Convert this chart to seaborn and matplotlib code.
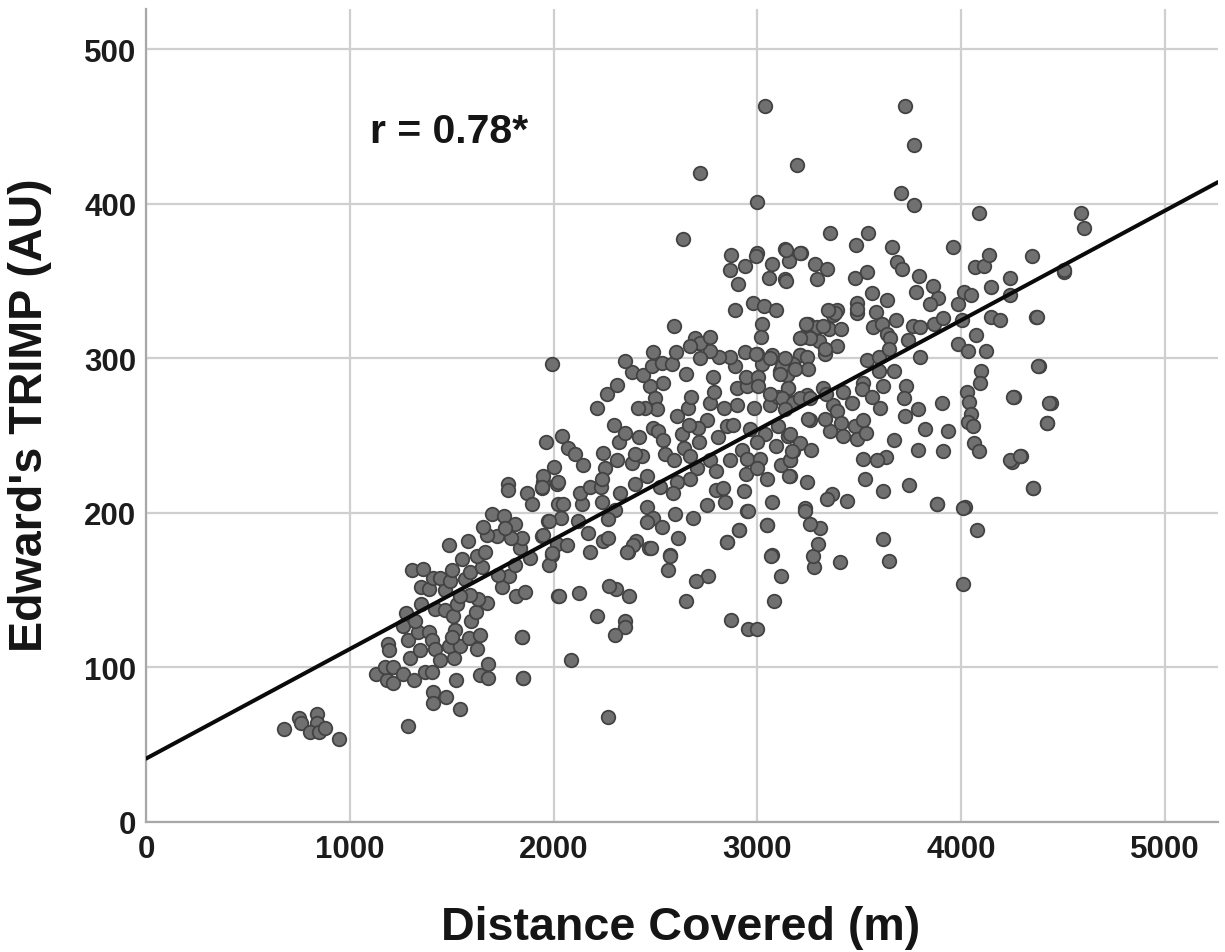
import matplotlib
matplotlib.use('Agg')
import matplotlib.pyplot as plt
import seaborn as sns

# distance covered (m) / Edward's TRIMP (AU)
distance = [
    677, 752, 759, 840, 840, 804, 850, 878, 948, 1285, 1128, 1181, 1213, 1172, 1210, 1262, 1315, 1369, 1402, 1295,
    1344, 1189, 1194, 1287, 1336, 1390, 1405, 1418, 1442, 1511, 1488, 1541, 1516, 1500, 1585, 1639, 1622, 1262, 1274, 1320,
    1349, 1418, 1467, 1508, 1593, 1619, 1671, 1631, 1590, 1524, 1541, 1349, 1388, 1467, 1410, 1442, 1492, 1565, 1590, 1500,
    1549, 1647, 1622, 1663, 1305, 1357, 1487, 1578, 1521, 1406, 1470, 1410, 1542, 1639, 1680, 1680, 1851, 1843, 1748, 1783,
    1729, 1815, 1860, 1810, 1884, 1835, 1843, 1791, 1721, 1671, 1652, 1696, 1758, 1810, 1761, 1941, 1974, 1990, 1977, 2023,
    2015, 1778, 1778, 1871, 1892, 1941, 1950, 2015, 2023,
    1990, 2039, 1962, 2072, 2105, 2142, 2002, 1949, 2023, 1941, 2048, 2137, 2129, 2178, 2232, 2252, 2244, 2309, 2236, 2236,
    2301, 2326, 2399, 2460, 2383, 2435, 2399, 2322, 2350, 2296, 2419, 2489, 2514, 2535, 2547, 2592, 2640, 2669, 2628, 2713,
    2604, 2661, 2674, 2767, 2787, 2751, 2710, 2664, 2805, 2849, 2882, 2780, 2898, 2898, 2836, 2983, 3062, 3103, 3149, 3144,
    3176, 2951, 2946, 3111, 3021, 3070, 2996, 2939, 2890, 2866, 2812, 2767, 2718, 2710, 2648, 2535, 2473, 2497, 2509, 2448,
    2412, 2211, 2260, 2313, 2383, 2437, 2350, 2489, 2481, 2533, 2579, 2600, 3176, 3209, 3037, 2964, 2996, 2923, 2947, 3013,
    2866, 2767, 2797, 2942, 2996, 3049, 3090, 3152, 3103, 3176, 3160, 3114, 3160, 2702, 2669, 2604, 2584, 2522, 2460, 2489,
    2460, 2530, 2596, 2686, 2612, 2751, 2797, 2841, 2833, 2936, 2951, 3070, 3049, 2910, 2849, 3070, 2571, 2468, 2402, 2363,
    2244, 2268, 2170, 2178, 2064, 1990, 2121, 2268, 2034, 1979, 1949,
    3356, 3545, 3484, 3662, 3958, 3136, 3212, 3157, 3283, 3340, 3136, 3291, 3479, 3536, 3684, 3708, 3793, 3864, 3777, 3888,
    3847, 3986, 4014, 4047, 4068, 4112, 4138, 4346, 4505, 4240, 4145, 4237, 3564, 3635, 3491, 3487, 3392, 3373, 3581, 3680,
    3566, 3610, 3635, 3651, 3765, 3798, 3741, 3867, 3909, 4003, 4145, 4191, 4367, 3250, 3294, 3353, 3409, 3222, 3255, 3304,
    3389, 3332, 3209, 3242, 3176, 3250, 3144, 3119, 3152, 3119, 3176, 3242, 3324, 3422, 3373, 3392, 3463, 3520, 3512, 3561,
    3615, 3602, 3536, 3597, 3648, 3598, 3672, 3798, 3986, 4035, 4120, 4071, 4098, 4093, 4384, 4261, 4441, 4420, 3729, 3720,
    3790, 3724, 3904, 3823, 3937, 4027, 4040, 4047, 4035, 4060, 4063, 4088, 4292, 4248, 4351, 3913, 3790, 3670, 3630, 3585,
    3520, 3528, 3618, 3746, 3883, 4019, 3438, 3365, 3340, 3234, 3245, 3157, 3160, 3209, 3262, 3168, 3152, 3258, 3356, 3410,
    3422, 3479, 3491, 3533, 3517,
    3037, 3724, 3768, 3194, 2718, 2998, 3705, 3768, 2635, 4085, 4588, 4603, 4504, 2870, 2998, 2939, 2866, 2905, 2890, 2993,
    3072, 3057, 3140, 3209, 3140, 2978, 3032, 3091, 3022, 3018, 2591, 4372, 4377, 4254, 4431, 4421, 4352, 4240, 4289, 4009,
    4078, 4009, 3881, 3646, 3616, 3405, 3278, 3273, 3297, 3307, 3233, 3258, 2954, 2998, 2870, 3081, 3116, 3067, 3047, 2910,
    2851, 2954, 2758, 2699, 2650, 2561, 2571, 2478, 2390, 2360, 2306, 2272, 2370, 2350, 2350, 2301, 2213, 2125, 2026, 2085,
    2267, 1845, 1850, 2694, 2718, 2767, 2669, 3238, 3322, 3381, 3346, 3489, 3258, 3209, 3135, 3184, 3332, 3111, 2993, 3003,
    3003, 3062, 3062, 3135, 3209, 3258, 3337, 3332, 3248, 3160,
]
trimp = [
    60, 67, 64, 70, 64, 58, 58, 61, 54, 62, 96, 92, 90, 100, 100, 96, 92, 97, 97, 106,
    111, 115, 111, 118, 123, 123, 118, 112, 105, 106, 114, 114, 124, 120, 119, 121, 112, 127, 135, 130,
    141, 138, 137, 133, 130, 136, 142, 144, 147, 141, 146, 152, 151, 150, 158, 158, 156, 157, 162, 163,
    170, 165, 172, 175, 163, 164, 179, 182, 92, 84, 81, 77, 73, 95, 102, 93, 93, 120, 152, 159,
    160, 146, 149, 166, 171, 177, 184, 184, 185, 186, 191, 199, 198, 193, 190, 185, 195, 173, 166, 146,
    180, 219, 215, 213, 206, 216, 220, 219, 206,
    296, 250, 246, 242, 238, 231, 230, 224, 220, 217, 206, 206, 213, 217, 217, 229, 239, 234, 222, 207,
    202, 213, 219, 224, 232, 237, 238, 246, 252, 257, 249, 255, 253, 247, 238, 234, 242, 237, 251, 246,
    263, 268, 275, 271, 278, 260, 255, 257, 249, 256, 257, 288, 281, 270, 268, 268, 270, 275, 281, 289,
    272, 282, 288, 292, 296, 302, 303, 304, 295, 301, 301, 305, 300, 310, 290, 284, 282, 274, 267, 268,
    268, 268, 277, 283, 291, 289, 298, 304, 295, 297, 296, 304, 296, 302, 251, 254, 246, 241, 235, 235,
    234, 234, 227, 225, 229, 222, 243, 250, 256, 240, 234, 231, 224, 229, 222, 220, 213, 217, 204, 197,
    194, 191, 199, 197, 184, 205, 215, 207, 216, 214, 201, 207, 192, 189, 181, 173, 173, 177, 182, 175,
    182, 184, 187, 175, 179, 174, 195, 196, 197, 195, 186,
    381, 381, 373, 372, 372, 371, 368, 363, 361, 358, 351, 351, 352, 356, 362, 358, 353, 347, 343, 339,
    335, 335, 343, 341, 359, 360, 367, 366, 356, 352, 346, 341, 342, 338, 336, 329, 331, 328, 330, 325,
    320, 322, 316, 313, 321, 320, 312, 322, 326, 325, 327, 325, 327, 322, 320, 319, 319, 314, 314, 311,
    308, 303, 302, 301, 296, 293, 289, 295, 281, 274, 271, 276, 281, 278, 270, 266, 271, 284, 280, 275,
    282, 268, 299, 301, 306, 292, 292, 301, 309, 305, 305, 315, 292, 284, 295, 275, 271, 258, 282, 274,
    267, 263, 271, 254, 253, 278, 272, 264, 259, 256, 245, 240, 237, 233, 216, 240, 241, 247, 236, 234,
    235, 222, 214, 218, 206, 204, 208, 212, 209, 203, 220, 224, 234, 245, 241, 240, 250, 260, 253, 258,
    250, 256, 248, 252, 260,
    463, 463, 438, 425, 420, 401, 407, 399, 377, 394, 394, 384, 357, 367, 368, 360, 357, 348, 331, 366,
    361, 352, 370, 368, 350, 336, 334, 331, 322, 314, 321, 327, 295, 275, 271, 258, 216, 234, 237, 203,
    189, 154, 206, 169, 183, 168, 165, 172, 180, 190, 201, 193, 125, 125, 131, 143, 159, 172, 192, 189,
    181, 201, 159, 156, 143, 163, 172, 177, 179, 175, 151, 153, 146, 130, 126, 121, 133, 148, 146, 105,
    68, 120, 93, 313, 310, 314, 308, 322, 321, 329, 331, 332, 313, 313, 300, 293, 306, 290, 303, 288,
    282, 300, 277, 267, 274, 274, 277, 261, 261, 251,
]
fit_x = [0, 5260]
fit_y = [41, 414]

xticks = [0, 1000, 2000, 3000, 4000, 5000]
yticks = [0, 100, 200, 300, 400, 500]

sns.set_style('white')
plt.rcParams['font.family'] = ['Liberation Sans', 'DejaVu Sans']

fig = plt.figure(figsize=(12.25, 9.53), dpi=100)
ax = fig.add_axes([146 / 1225, 1 - 823 / 953, (1218 - 146) / 1225, (823 - 10) / 953])

ax.grid(True, color='#cfcfcf', linewidth=1.6)
ax.set_axisbelow(True)

sns.scatterplot(x=distance, y=trimp, ax=ax, s=95, color='#707070',
                edgecolor='#434343', linewidth=1.3, zorder=3, clip_on=False)
sns.lineplot(x=fit_x, y=fit_y, ax=ax, color='#0a0a0a', linewidth=2.9, zorder=4)

ax.set_xlim(0, 5260)
ax.set_ylim(0, 526)
ax.set_xticks(xticks)
ax.set_yticks(yticks)
ax.tick_params(axis='both', length=0, labelcolor='#1c1c1c')
ax.tick_params(axis='x', pad=9)
ax.tick_params(axis='y', pad=7)
for lab in ax.get_xticklabels() + ax.get_yticklabels():
    lab.set_fontweight('bold')
    lab.set_fontsize(22.5)

sns.despine(ax=ax)
ax.spines['left'].set_color('#a8a8a8')
ax.spines['bottom'].set_color('#a8a8a8')
ax.spines['left'].set_linewidth(1.6)
ax.spines['bottom'].set_linewidth(1.6)

ax.text(1100, 447, 'r = 0.78*', fontsize=29.5, fontweight='bold', color='#151515', va='center')

fig.text(681 / 1225, 1 - 928 / 953, 'Distance Covered (m)', fontsize=33.6, fontweight='bold',
         color='#151515', ha='center', va='center')
fig.text(30 / 1225, 1 - 415 / 953, "Edward's TRIMP (AU)", fontsize=33.6, fontweight='bold',
         color='#151515', ha='center', va='center', rotation=90)

fig.savefig('out.png', dpi=100)
